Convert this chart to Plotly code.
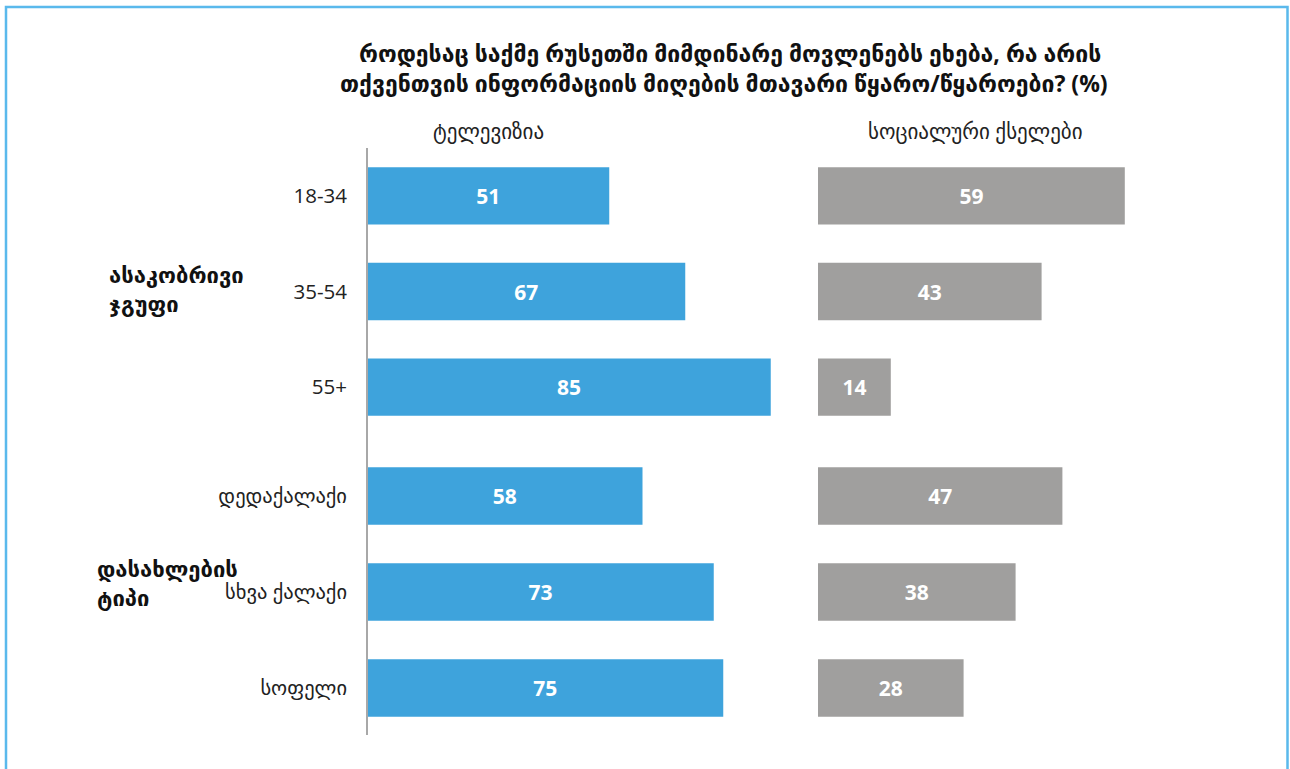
import plotly.graph_objects as go

W, H = 1290, 769
OFF = 0  # body margin removed via post_script

title_lines = ["როდესაც საქმე რუსეთში მიმდინარე მოვლენებს ეხება, რა არის",
               "თქვენთვის ინფორმაციის მიღების მთავარი წყარო/წყაროები? (%)"]
panel_titles = ["ტელევიზია", "სოციალური ქსელები"]

group_a_label = "ასაკობრივი<br>ჯგუფი"
group_a_cats = ["18-34", "35-54", "55+"]
group_a_tv = [51, 67, 85]
group_a_social = [59, 43, 14]

group_b_label = "დასახლების<br>ტიპი"
group_b_cats = ["დედაქალაქი", "სხვა ქალაქი", "სოფელი"]
group_b_tv = [58, 73, 75]
group_b_social = [47, 38, 28]

BLUE = "#3ea3dc"
GRAY = "#a09f9e"
FONT = "Open Sans, DejaVu Sans, sans-serif"

def px_x(p):
    return (p - OFF) / W

def px_y(p):
    return 1 - (p - OFF) / H

fig = go.Figure()

def add_bar(cats, vals, color, xa, ya):
    fig.add_trace(go.Bar(
        y=cats, x=vals, orientation="h", xaxis=xa, yaxis=ya,
        marker=dict(color=color, line=dict(width=0)),
        text=[str(v) for v in vals], textposition="inside",
        insidetextanchor="middle",
        textfont=dict(color="white", size=21, family=FONT, weight="bold"),
        hoverinfo="skip", showlegend=False, cliponaxis=False,
    ))

add_bar(group_a_cats, group_a_tv, BLUE, "x", "y")
add_bar(group_a_cats, group_a_social, GRAY, "x2", "y")
add_bar(group_b_cats, group_b_tv, BLUE, "x", "y2")
add_bar(group_b_cats, group_b_social, GRAY, "x2", "y2")

yax = dict(autorange="reversed", type="category", showgrid=False, zeroline=False,
           showline=False, ticks="", ticklabelstandoff=19,
           tickfont=dict(size=20.5, color="#222222", family=FONT))

fig.update_layout(
    width=W, height=H,
    margin=dict(l=0, r=0, t=0, b=0),
    paper_bgcolor="white", plot_bgcolor="white",
    bargap=0.4,
    uniformtext=dict(mode="show", minsize=10),
    xaxis=dict(domain=[px_x(367), px_x(367 + 4.75 * 90)], range=[0, 90],
               visible=False, anchor="y2"),
    xaxis2=dict(domain=[px_x(818), px_x(818 + 5.2 * 80)], range=[0, 80],
                visible=False, anchor="y2"),
    yaxis=dict(domain=[px_y(435), px_y(148)], anchor="x", **yax),
    yaxis2=dict(domain=[px_y(736), px_y(448)], anchor="x", **yax),
)

annotations = [
    dict(x=px_x(730), y=px_y(53), text="<b>" + title_lines[0] + "</b>",
         font=dict(size=23, color="#111111", family=FONT)),
    dict(x=px_x(724), y=px_y(83), text="<b>" + title_lines[1] + "</b>",
         font=dict(size=23, color="#111111", family=FONT)),
    dict(x=px_x(489), y=px_y(131), text=panel_titles[0],
         font=dict(size=21, color="#222222", family=FONT)),
    dict(x=px_x(975), y=px_y(131), text=panel_titles[1],
         font=dict(size=21, color="#222222", family=FONT)),
    dict(x=px_x(107), y=px_y(289), text="<b>" + group_a_label + "</b>",
         xanchor="left", align="left",
         font=dict(size=22, color="#111111", family=FONT)),
    dict(x=px_x(95), y=px_y(582), text="<b>" + group_b_label + "</b>",
         xanchor="left", align="left",
         font=dict(size=22, color="#111111", family=FONT)),
]
for a in annotations:
    a.setdefault("xanchor", "center")
    a.update(xref="paper", yref="paper", yanchor="middle", showarrow=False)
fig.update_layout(annotations=annotations)

fig.add_shape(type="line", xref="paper", yref="paper",
              x0=px_x(367), x1=px_x(367), y0=px_y(148), y1=px_y(735),
              line=dict(color="#a8a8a8", width=2))
fig.add_shape(type="rect", xref="paper", yref="paper",
              x0=px_x(6), x1=px_x(1287.5), y0=px_y(7), y1=px_y(800),
              line=dict(color="#5ab9ec", width=2.5), fillcolor="rgba(0,0,0,0)")

fig.write_html(
    "out.html",
    config={"displayModeBar": False},
    post_script="document.body.style.margin='0';document.body.style.overflow='hidden';",
)
